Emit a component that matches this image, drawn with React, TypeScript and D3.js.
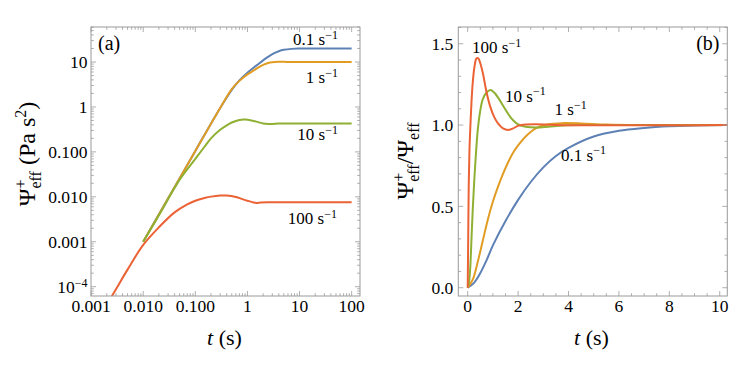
import * as d3 from 'd3';

// colours of the four shear rates (blue, orange, green, red)
const rateLabels = ['0.1', '1', '10', '100'];
const colors = ['#5E81B5', '#E19C24', '#8FB032', '#EB6235'];

// panel (a): growth coefficient vs time, log-log
const tBlueA = [0.01, 0.03, 0.1, 0.3, 0.5, 0.7, 1, 1.5, 2, 3, 4, 5, 7, 10, 20, 100];
const psiBlueA = [0.001, 0.0092, 0.105, 0.95, 2.4, 3.9, 5.8, 8.4, 10.9, 15, 17.4, 18.7, 19.6, 19.9, 20, 20];
const tOrangeA = [0.01, 0.03, 0.1, 0.3, 0.5, 0.7, 1, 1.3, 1.6, 2, 2.5, 3, 4, 5, 7, 100];
const psiOrangeA = [0.001, 0.0092, 0.105, 0.95, 2.5, 3.8, 5.3, 6.4, 7.5, 8.6, 9.5, 9.9, 10.1, 10.1, 10, 10];
const tGreenA = [0.01, 0.02, 0.05, 0.1, 0.15, 0.2, 0.3, 0.4, 0.5, 0.7, 0.9, 1.2, 1.6, 2, 2.5, 3, 4, 6, 100];
const psiGreenA = [0.001, 0.0039, 0.024, 0.07, 0.13, 0.2, 0.31, 0.39, 0.45, 0.515, 0.525, 0.5, 0.46, 0.43, 0.418, 0.42, 0.426, 0.427, 0.427];
const tRedA = [0.002, 0.003, 0.005, 0.01, 0.02, 0.04, 0.07, 0.1, 0.15, 0.2, 0.3, 0.4, 0.6, 0.8, 1, 1.3, 1.5, 1.8, 2.5, 5, 100];
const psiRedA = [0.00004, 0.000088, 0.00024, 0.00085, 0.0021, 0.0045, 0.0068, 0.0082, 0.0094, 0.0101, 0.0107, 0.0107, 0.0099, 0.0089, 0.0082, 0.0075, 0.0073, 0.0075, 0.0076, 0.0076, 0.0076];

// panel (b): normalised growth vs time, linear
const tBlueB = [0, 0.25, 0.5, 0.75, 1, 1.5, 2, 2.5, 3, 3.5, 4, 5, 6, 7, 8, 9, 10.3];
const rBlueB = [0, 0.03, 0.09, 0.17, 0.26, 0.41, 0.54, 0.65, 0.74, 0.81, 0.86, 0.93, 0.965, 0.982, 0.992, 0.997, 1];
const tOrangeB = [0, 0.2, 0.4, 0.6, 0.8, 1, 1.2, 1.4, 1.6, 1.8, 2, 2.3, 2.7, 3.2, 3.8, 4.5, 5.5, 7, 10.3];
const rOrangeB = [0, 0.05, 0.16, 0.29, 0.42, 0.53, 0.62, 0.7, 0.77, 0.83, 0.875, 0.93, 0.98, 1.005, 1.012, 1.01, 1.003, 1, 1];
const tGreenB = [0, 0.05, 0.1, 0.15, 0.2, 0.25, 0.3, 0.4, 0.5, 0.6, 0.75, 0.9, 1.05, 1.2, 1.4, 1.6, 1.8, 2, 2.3, 2.7, 3.2, 3.8, 5, 10.3];
const rGreenB = [0, 0.03, 0.12, 0.3, 0.48, 0.63, 0.76, 0.97, 1.09, 1.16, 1.2, 1.215, 1.2, 1.17, 1.12, 1.07, 1.03, 1.005, 0.99, 0.985, 0.99, 0.998, 1, 1];
const tRedB = [0, 0.02, 0.04, 0.07, 0.1, 0.15, 0.2, 0.27, 0.35, 0.42, 0.5, 0.6, 0.75, 0.9, 1.05, 1.2, 1.4, 1.6, 1.8, 2, 2.3, 2.7, 3.5, 10.3];
const rRedB = [0, 0.3, 0.62, 0.85, 0.97, 1.14, 1.26, 1.36, 1.41, 1.41, 1.38, 1.32, 1.2, 1.11, 1.05, 1.01, 0.98, 0.97, 0.98, 0.995, 1.003, 1.005, 1, 1];

// tick labels
const xTicksA = [0.001, 0.01, 0.1, 1, 10, 100];
const xLabelsA = ['0.001', '0.010', '0.100', '1', '10', '100'];
const yTicksA = [1e-4, 0.001, 0.01, 0.1, 1, 10];
const yLabelsA = ['', '0.001', '0.010', '0.100', '1', '10'];
const xTicksB = [0, 2, 4, 6, 8, 10];
const yTicksB = [0, 0.5, 1, 1.5];
const yLabelsB = ['0.0', '0.5', '1.0', '1.5'];

const seriesA = [
  [tBlueA, psiBlueA],
  [tOrangeA, psiOrangeA],
  [tGreenA, psiGreenA],
  [tRedA, psiRedA],
];
const seriesB = [
  [tBlueB, rBlueB],
  [tOrangeB, rOrangeB],
  [tGreenB, rGreenB],
  [tRedB, rRedB],
];

const FONT = 'Liberation Serif';
const FRAME = '#9a9a9a';

// frames
const A = { left: 91, right: 360, top: 27, bottom: 296 };
const B = { left: 458.3, right: 727.3, top: 27, bottom: 296 };

const xA = d3.scaleLog().domain([Math.pow(10, -3.002), Math.pow(10, 2.16)]).range([A.left, A.right]);
const yA = d3.scaleLog().domain([Math.pow(10, -4.207), Math.pow(10, 1.779)]).range([A.bottom, A.top]);
const xB = d3.scaleLinear().domain([-0.373, 10.3]).range([B.left, B.right]);
const yB = d3.scaleLinear().domain([-0.051, 1.603]).range([B.bottom, B.top]);

function logTicks(dom: number[]) {
  const out: { v: number; major: boolean }[] = [];
  const lo = Math.floor(Math.log10(dom[0]));
  const hi = Math.ceil(Math.log10(dom[1]));
  for (let d = lo; d <= hi; d++) {
    for (let k = 1; k <= 9; k++) {
      const v = k * Math.pow(10, d);
      if (v >= dom[0] && v <= dom[1]) out.push({ v, major: k === 1 });
    }
  }
  return out;
}

function linTicks(dom: number[], step: number, every: number) {
  const out: { v: number; major: boolean }[] = [];
  for (let i = Math.ceil(dom[0] / step); i * step <= dom[1]; i++) {
    out.push({ v: i * step, major: i % every === 0 });
  }
  return out;
}

function FrameTicks({ box, xs, ys, xt, yt }: any) {
  const lines: any[] = [];
  xt.forEach((t: any, i: number) => {
    const x = xs(t.v);
    const len = t.major ? 5 : 2.8;
    lines.push(<line key={'xb' + i} x1={x} x2={x} y1={box.bottom} y2={box.bottom - len} />);
    lines.push(<line key={'xt' + i} x1={x} x2={x} y1={box.top} y2={box.top + len} />);
  });
  yt.forEach((t: any, i: number) => {
    const y = ys(t.v);
    const len = t.major ? 5 : 2.8;
    lines.push(<line key={'yl' + i} x1={box.left} x2={box.left + len} y1={y} y2={y} />);
    lines.push(<line key={'yr' + i} x1={box.right} x2={box.right - len} y1={y} y2={y} />);
  });
  return (
    <g stroke={FRAME} strokeWidth={0.8}>
      {lines}
      <rect x={box.left} y={box.top} width={box.right - box.left} height={box.bottom - box.top} fill="none" strokeWidth={1} />
    </g>
  );
}

function RateLabel({ x, y, rate, anchor }: any) {
  return (
    <text x={x} y={y} textAnchor={anchor} fontSize={17} fontFamily={FONT}>
      {rate} s<tspan fontSize={12} dy={-6.5}>−1</tspan>
    </text>
  );
}

export default function App() {
  const lineA = d3
    .line<number[]>()
    .x((d) => xA(d[0]))
    .y((d) => yA(d[1]))
    .curve(d3.curveCatmullRom.alpha(0.5));
  const lineB = d3
    .line<number[]>()
    .x((d) => xB(d[0]))
    .y((d) => yB(d[1]))
    .curve(d3.curveCatmullRom.alpha(0.5));

  const xtA = logTicks(xA.domain());
  const ytA = logTicks(yA.domain());
  const xtB = linTicks(xB.domain(), 0.5, 4);
  const ytB = linTicks(yB.domain(), 0.1, 5);

  return (
    <div style={{ position: 'absolute', left: 0, top: 0 }}>
      <svg width={747} height={365} style={{ display: 'block', background: '#fff' }}>
        <defs>
          <clipPath id="clipA">
            <rect x={A.left} y={A.top} width={A.right - A.left} height={A.bottom - A.top} />
          </clipPath>
          <clipPath id="clipB">
            <rect x={B.left} y={B.top} width={B.right - B.left} height={B.bottom - B.top} />
          </clipPath>
        </defs>

        {/* panel (a) */}
        <g clipPath="url(#clipA)" fill="none" strokeWidth={2}>
          {seriesA.map((s, i) => (
            <path key={i} d={lineA(s[0].map((t, j) => [t, s[1][j]])) || ''} stroke={colors[i]} />
          ))}
        </g>
        <FrameTicks box={A} xs={xA} ys={yA} xt={xtA} yt={ytA} />
        <g fontSize={17.5} fill="#000" fontFamily={FONT}>
          {xTicksA.map((v, i) => (
            <text key={i} x={xA(v)} y={311.7} textAnchor="middle">{xLabelsA[i]}</text>
          ))}
          {yTicksA.map((v, i) => (
            <text key={i} x={A.left - 3.5} y={yA(v)} dy="0.35em" textAnchor="end">
              {i === 0 ? (
                <>10<tspan fontSize={12} dy={-6}>−4</tspan></>
              ) : (
                yLabelsA[i]
              )}
            </text>
          ))}
        </g>
        <text x={98} y={49.5} fontSize={20} fontFamily={FONT}>(a)</text>
        <RateLabel x={338} y={45} rate={rateLabels[0]} anchor="end" />
        <RateLabel x={338} y={83} rate={rateLabels[1]} anchor="end" />
        <RateLabel x={338} y={140} rate={rateLabels[2]} anchor="end" />
        <RateLabel x={337} y={224} rate={rateLabels[3]} anchor="end" />
        <text x={224.5} y={345} fontSize={22} textAnchor="middle" fontFamily={FONT}>
          <tspan fontStyle="italic">t</tspan> (s)
        </text>
        <text transform="translate(35,154) rotate(-90)" fontSize={24} textAnchor="middle" fontFamily={FONT}>
          Ψ<tspan fontSize={16} dy={-9}>+</tspan>
          <tspan fontSize={16} dx={-9} dy={15}>eff</tspan>
          <tspan dy={-6}> (Pa s</tspan>
          <tspan fontSize={16} dy={-9}>2</tspan>
          <tspan dy={9}>)</tspan>
        </text>

        {/* panel (b) */}
        <g clipPath="url(#clipB)" fill="none" strokeWidth={2}>
          {seriesB.map((s, i) => (
            <path key={i} d={lineB(s[0].map((t, j) => [t, s[1][j]])) || ''} stroke={colors[i]} />
          ))}
        </g>
        <FrameTicks box={B} xs={xB} ys={yB} xt={xtB} yt={ytB} />
        <g fontSize={17.5} fill="#000" fontFamily={FONT}>
          {xTicksB.map((v, i) => (
            <text key={i} x={xB(v)} y={311.7} textAnchor="middle">{String(v)}</text>
          ))}
          {yTicksB.map((v, i) => (
            <text key={i} x={B.left - 5} y={yB(v)} dy="0.35em" textAnchor="end">{yLabelsB[i]}</text>
          ))}
        </g>
        <text x={719.5} y={50} fontSize={20} textAnchor="end" fontFamily={FONT}>(b)</text>
        <RateLabel x={472} y={53.3} rate={rateLabels[3]} anchor="start" />
        <RateLabel x={505} y={101.7} rate={rateLabels[2]} anchor="start" />
        <RateLabel x={554.5} y={115} rate={rateLabels[1]} anchor="start" />
        <RateLabel x={561} y={160.7} rate={rateLabels[0]} anchor="start" />
        <text x={591.5} y={345} fontSize={22} textAnchor="middle" fontFamily={FONT}>
          <tspan fontStyle="italic">t</tspan> (s)
        </text>
        <text transform="translate(413,161) rotate(-90)" fontSize={24} textAnchor="middle" fontFamily={FONT}>
          Ψ<tspan fontSize={16} dy={-9}>+</tspan>
          <tspan fontSize={16} dx={-9} dy={15}>eff</tspan>
          <tspan dy={-6}>/Ψ</tspan>
          <tspan fontSize={16} dy={6}>eff</tspan>
        </text>
      </svg>
    </div>
  );
}
